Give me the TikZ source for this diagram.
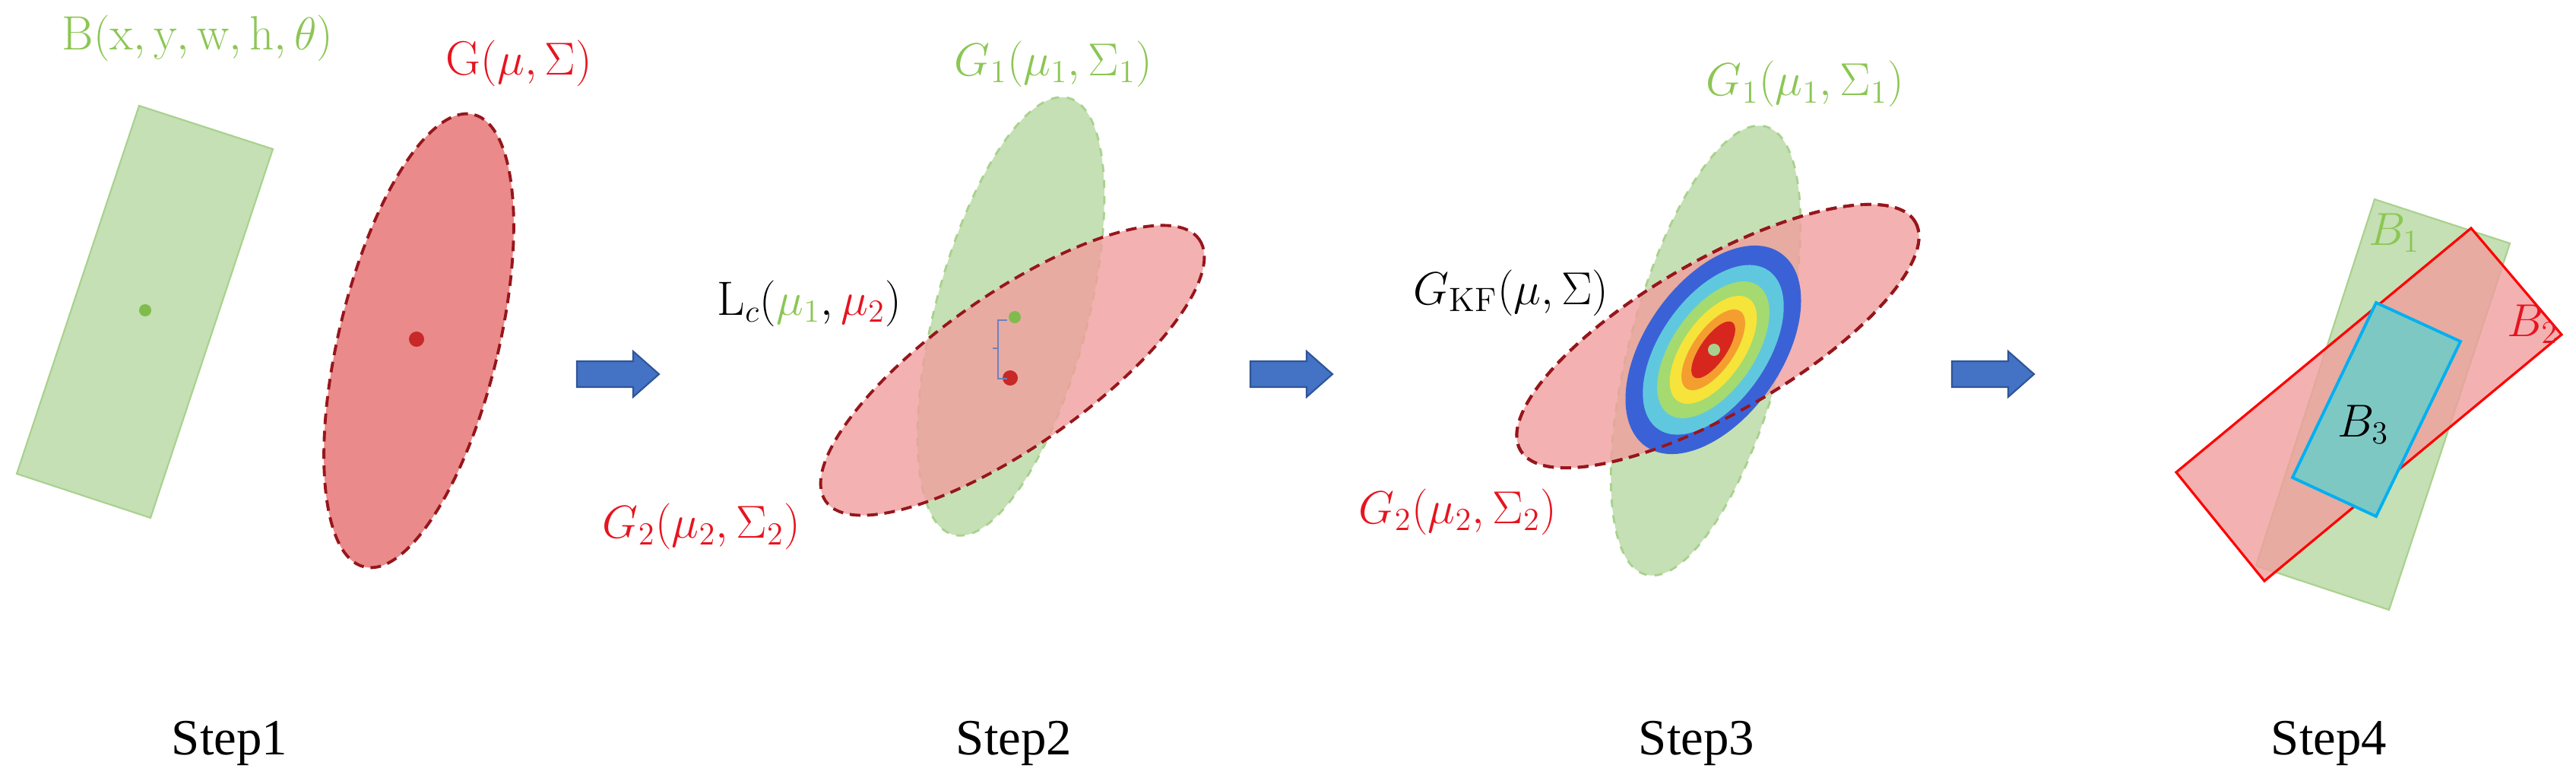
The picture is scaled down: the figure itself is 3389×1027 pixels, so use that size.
\documentclass[tikz,border=0pt]{standalone}
\usepackage{fontspec}
\usepackage{amsmath}
\newfontfamily\steprm{Liberation Serif}
\definecolor{kf_green}{RGB}{197,224,180}
\definecolor{kf_gline}{RGB}{169,209,142}
\definecolor{kf_gtext}{RGB}{140,198,84}
\definecolor{kf_gdot}{RGB}{128,188,76}
\definecolor{kf_red}{RGB}{234,138,138}
\definecolor{kf_pink}{RGB}{240,158,158}
\definecolor{kf_dred}{RGB}{150,22,28}
\definecolor{kf_rtext}{RGB}{230,20,32}
\definecolor{kf_rdot}{RGB}{200,40,40}
\definecolor{kf_blue}{RGB}{68,114,196}
\definecolor{kf_bline}{RGB}{47,85,151}
\definecolor{kf_cyan}{RGB}{0,176,240}
\definecolor{kf_teal}{RGB}{126,200,196}
\definecolor{kf_slate}{RGB}{112,128,190}
\definecolor{ring1}{RGB}{58,98,214}
\definecolor{ring2}{RGB}{96,200,222}
\definecolor{ring3}{RGB}{164,218,112}
\definecolor{ring4}{RGB}{246,228,58}
\definecolor{ring5}{RGB}{244,158,48}
\definecolor{ring6}{RGB}{214,38,30}
\tikzstyle{gbox}=[fill=kf_green,draw=kf_gline,line width=0.6pt]
\tikzstyle{rbox}=[fill=kf_pink,fill opacity=0.8,draw=red,draw opacity=1,line width=0.9pt]
\tikzstyle{cbox}=[fill=kf_teal,draw=kf_cyan,line width=1.1pt]
\tikzstyle{gell}=[fill=kf_green,draw=kf_gline,dashed,line width=0.8pt]
\tikzstyle{rell}=[fill=kf_pink,fill opacity=0.8,draw=kf_dred,draw opacity=1,
  line width=1.1pt,dash pattern=on 4pt off 2.5pt]
\tikzstyle{gdot}=[circle,fill=kf_gdot,inner sep=0pt,minimum size=0.16cm]
\tikzstyle{rdot}=[circle,fill=kf_rdot,inner sep=0pt,minimum size=0.2cm]
\tikzstyle{lbl}=[anchor=base,inner sep=0pt,font=\fontsize{18}{20}\selectfont]
\tikzstyle{steplbl}=[anchor=base,inner sep=0pt,font=\steprm\fontsize{19}{22}\selectfont]
\tikzstyle{barrow}=[fill=kf_blue,draw=kf_bline,line width=0.6pt]

\begin{document}
\begin{tikzpicture}[x=0.01cm,y=-0.01cm]
            \useasboundingbox (0,0) rectangle (3389,1027);
            % step 1
            \draw[gbox] (183,139) -- (359,196) -- (198,681) -- (22,623) -- cycle;
            \draw[rell,fill=kf_red,fill opacity=1,rotate around={-13.6:(551,448)}]
              (551,448) ellipse [x radius=105, y radius=306];
            \node[gdot] (c0) at (191,408) {};
            \node[rdot] (mu0) at (548,446) {};
            \node[lbl,text=kf_gtext] (lblB) at (260,65) {$\mathrm{B}(\mathrm{x},\mathrm{y},\mathrm{w},\mathrm{h},\theta)$};
            \node[lbl,text=kf_rtext] (lblG) at (683,98) {$\mathrm{G}(\mu,\Sigma)$};
            % step 2
            \draw[gell,rotate around={-14.8:(1330,416)}] (1330,416) ellipse [x radius=100, y radius=297];
            \draw[rell,rotate around={35:(1332,487)}] (1332,487) ellipse [x radius=300, y radius=100];
            \node[gdot] (mu1) at (1335,417) {};
            \node[rdot] (mu2) at (1329,497) {};
            \draw[kf_slate,line width=0.7pt] (1325,421) -- (1313,421) -- (1313,498) -- (1325,498);
            \draw[kf_slate,line width=0.7pt] (1306,458) -- (1313,458);
            \node[lbl,text=kf_gtext] (lblG1a) at (1386,99) {$G_1(\mu_1,\Sigma_1)$};
            \node[lbl] (lblLc) at (1065,414) {$\mathrm{L}_c(\textcolor{kf_gtext}{\mu_1},\textcolor{kf_rtext}{\mu_2})$};
            \node[lbl,text=kf_rtext] (lblG2a) at (923,707) {$G_2(\mu_2,\Sigma_2)$};
            % step 3
            \draw[gell,rotate around={-15:(2244,461)}] (2244,461) ellipse [x radius=100, y radius=305];
            \draw[rell,rotate around={30:(2260,442)}] (2260,442) ellipse [x radius=300, y radius=100];
            \foreach \ra/\rb/\rc in {155/90/ring1,127/70/ring2,103/54/ring3,82/40/ring4,62/27/ring5,44/17/ring6}
              \fill[\rc,rotate around={55:(2254,460)}] (2254,460) ellipse [x radius=\ra, y radius=\rb];
            \draw[rell,fill=none,rotate around={30:(2260,442)}] (2260,442) ellipse [x radius=300, y radius=100];
            \node[gdot,fill=kf_gline] (muKF) at (2255,460) {};
            \node[lbl,text=kf_gtext] (lblG1b) at (2375,126) {$G_1(\mu_1,\Sigma_1)$};
            \node[lbl] (lblKF) at (1988,400) {$G_{\mathrm{KF}}(\mu,\Sigma)$};
            \node[lbl,text=kf_rtext] (lblG2b) at (1918,688) {$G_2(\mu_2,\Sigma_2)$};
            % step 4
            \draw[gbox] (3124,262) -- (3302,320) -- (3143,802) -- (2968,744) -- cycle;
            \draw[rbox] (3251,300) -- (3370,440) -- (2979,764) -- (2863,621) -- cycle;
            \draw[cbox] (3126,398) -- (3237,449) -- (3126,679) -- (3016,628) -- cycle;
            \node[lbl,text=kf_gtext] (lblB1) at (3150,322) {$B_1$};
            \node[lbl,text=kf_rtext] (lblB2) at (3332,442) {$B_2$};
            \node[lbl] (lblB3) at (3109,574) {$B_3$};
            % arrows
            \foreach \ax in {759,1645,2568}
              \draw[barrow] (\ax,475) -- ++(74,0) -- ++(0,-13) -- ++(34,30) -- ++(-34,30) -- ++(0,-13) -- ++(-74,0) -- cycle;
            % captions
            \node[steplbl] (s1) at (302,992) {Step1};
            \node[steplbl] (s2) at (1334,992) {Step2};
            \node[steplbl] (s3) at (2232,992) {Step3};
            \node[steplbl] (s4) at (3064,992) {Step4};
    \end{tikzpicture}
\end{document}
